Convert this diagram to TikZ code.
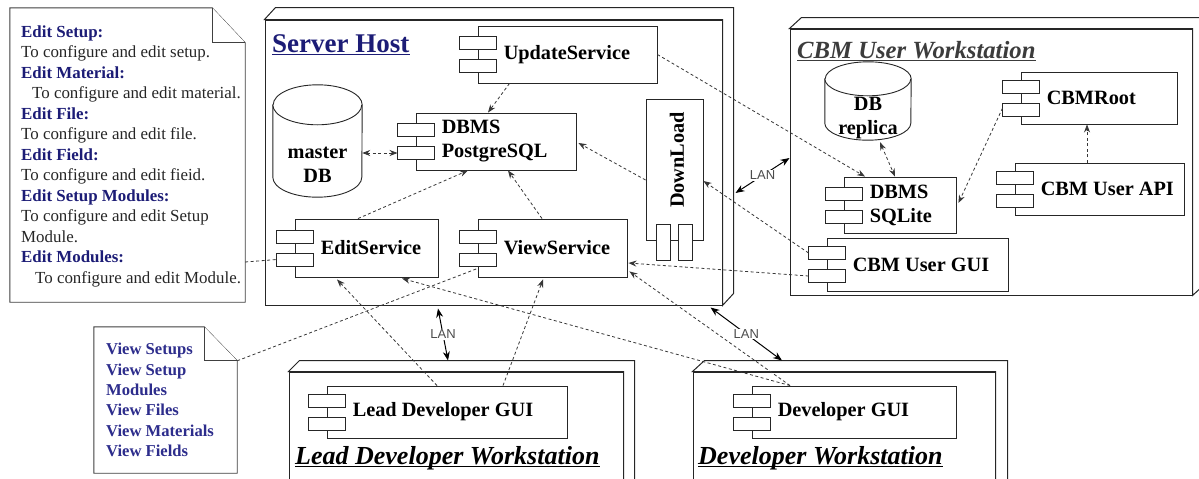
\documentclass[tikz,border=0pt]{standalone}
\usepackage{fontspec}
\setmainfont{Liberation Serif}
\newfontfamily\lansf{Liberation Sans}
\usetikzlibrary{positioning,arrows.meta}

\definecolor{navy}{RGB}{28,28,118}
\definecolor{noteblue}{RGB}{45,45,140}
\definecolor{titlegray}{RGB}{60,60,60}
\definecolor{linegray}{RGB}{55,55,55}

\tikzset{
  comp/.style={draw=black!85, line width=0.9pt, fill=white, inner sep=0pt},
  complabel/.style={font=\fontsize{20.3}{24}\selectfont\bfseries, align=left, inner sep=0pt},
  handle/.style={draw=black!85, line width=0.9pt, fill=white},
  nodebox/.style={draw=black!85, line width=1pt, fill=white, inner sep=0pt},
  dbshape/.style={draw=black!85, line width=0.9pt, fill=white},
  notebox/.style={draw=black!75, line width=0.9pt, fill=white},
  dep/.style={draw=linegray, line width=0.8pt, dash pattern=on 3pt off 2.5pt, -{Stealth[length=8pt,width=6pt]}},
  deps/.style={dep, {Stealth[length=8pt,width=6pt]}-{Stealth[length=8pt,width=6pt]}},
  assoc/.style={draw=linegray, line width=0.8pt, dash pattern=on 3pt off 2.5pt},
  lan/.style={draw=black, line width=1pt, {Stealth[length=9pt,width=7pt]}-{Stealth[length=9pt,width=7pt]}},
  lanlabel/.style={font=\lansf\fontsize{13}{15}\selectfont, text=black!70, fill=white, inner sep=1pt},
  nodetitle/.style={font=\fontsize{26}{30}\selectfont\bfseries\itshape, inner sep=0pt, anchor=base west},
  notetext/.style={font=\fontsize{16.9}{20.5}\selectfont, align=left, inner sep=0pt, anchor=north west},
  ulline/.style={line width=1.6pt},
}

% two component handles on the left side of a node
\newcommand\comphandles[1]{%
  \draw[handle] ([shift={(-18,-18)}]#1.west) rectangle ++(37,13);
  \draw[handle] ([shift={(-18,5)}]#1.west) rectangle ++(37,13);}
% 3d faces of a deployment node
\newcommand\nodedepth[3]{%
  \draw[nodebox] (#1.north west) -- ++(#2,-#3) -- ([shift={(#2,-#3)}]#1.north east)
    -- ([shift={(#2,-#3)}]#1.south east) -- (#1.south east) -- (#1.north east) -- cycle;}
% underline below a title node
\newcommand\titleline[2][black]{%
  \draw[ulline, #1] ([shift={(0,2.5)}]#2.base west) -- ([shift={(0,2.5)}]#2.base east);}

\begin{document}
\begin{tikzpicture}[x=1pt,y=-1pt]
\useasboundingbox (0,0) rectangle (1199,479);
\clip (0,0) rectangle (1199,479);

% deployment nodes
\node[nodebox, minimum width=457pt, minimum height=285pt] (srv) at (493.5,162.5) {};
\nodedepth{srv}{11}{12}
\node[nodebox, minimum width=402pt, minimum height=266pt] (cbm) at (991,162) {};
\nodedepth{cbm}{12}{11}
\node[nodebox, minimum width=334pt, minimum height=158pt] (lead) at (456,451) {};
\nodedepth{lead}{11}{11}
\node[nodebox, minimum width=302pt, minimum height=158pt] (dev) at (844,451) {};
\nodedepth{dev}{12}{11}

\node[font=\fontsize{27}{30}\selectfont\bfseries, text=navy, inner sep=0pt, anchor=base west] (srvtitle) at (272,52) {Server Host};
\titleline[navy]{srvtitle}
\node[nodetitle, font=\fontsize{24.7}{28}\selectfont\bfseries\itshape, text=titlegray] (cbmtitle) at (797,58) {CBM User Workstation};
\titleline[titlegray]{cbmtitle}
\node[nodetitle] (leadtitle) at (295,464) {Lead Developer Workstation};
\titleline{leadtitle}
\node[nodetitle] (devtitle) at (698,464) {Developer Workstation};
\titleline{devtitle}

% notes
\node[minimum width=235pt, minimum height=294pt, inner sep=0pt] (editnote) at (127.5,155) {};
\draw[notebox] (editnote.north west) -- ([shift={(-33,0)}]editnote.north east) -- ([shift={(0,35)}]editnote.north east)
  -- (editnote.south east) -- (editnote.south west) -- cycle;
\draw[notebox] ([shift={(-33,0)}]editnote.north east) -- ++(0,35) -- ++(33,0);
\node[notetext, text=black!85] (edittxt) at (21,25.5) {%
  \textcolor{navy}{\bfseries Edit Setup:}\\
  To configure and edit setup.\\
  \textcolor{navy}{\bfseries Edit Material:}\\
  \hspace*{11pt}To configure and edit material.\\
  \textcolor{navy}{\bfseries Edit File:}\\
  To configure and edit file.\\
  \textcolor{navy}{\bfseries Edit Field:}\\
  To configure and edit fieid.\\
  \textcolor{navy}{\bfseries Edit Setup Modules:}\\
  To configure and edit Setup\\
  Module.\\
  \textcolor{navy}{\bfseries Edit Modules:}\\
  \hspace*{14pt}To configure and edit Module.};

\node[minimum width=143pt, minimum height=146pt, inner sep=0pt] (viewnote) at (165.5,400) {};
\draw[notebox] (viewnote.north west) -- ([shift={(-33,0)}]viewnote.north east) -- ([shift={(0,34)}]viewnote.north east)
  -- (viewnote.south east) -- (viewnote.south west) -- cycle;
\draw[notebox] ([shift={(-33,0)}]viewnote.north east) -- ++(0,34) -- ++(33,0);
\node[notetext, font=\fontsize{16.6}{20.4}\selectfont\bfseries, text=noteblue] (viewtxt) at (106,343)
  {View Setups\\View Setup\\Modules\\View Files\\View Materials\\View Fields};

% databases
\node[minimum width=89pt, minimum height=112pt, inner sep=0pt] (mdb) at (317.5,141) {};
\draw[dbshape] ([shift={(0,20)}]mdb.north west) -- ([shift={(0,-20)}]mdb.south west)
  arc[start angle=180, end angle=360, x radius=44.5pt, y radius=20pt] -- ([shift={(0,20)}]mdb.north east)
  arc[start angle=0, end angle=180, x radius=44.5pt, y radius=20pt] -- cycle;
\draw[dbshape] ([shift={(0,20)}]mdb.north west) arc[start angle=180, end angle=360, x radius=44.5pt, y radius=20pt];
\node[complabel, align=center] (mdbtxt) at (317.5,165) {master\\DB};

\node[minimum width=86pt, minimum height=78pt, inner sep=0pt] (rep) at (868,101) {};
\draw[dbshape] ([shift={(0,17)}]rep.north west) -- ([shift={(0,-17)}]rep.south west)
  arc[start angle=180, end angle=360, x radius=43pt, y radius=17pt] -- ([shift={(0,17)}]rep.north east)
  arc[start angle=0, end angle=180, x radius=43pt, y radius=17pt] -- cycle;
\draw[dbshape] ([shift={(0,17)}]rep.north west) arc[start angle=180, end angle=360, x radius=43pt, y radius=17pt];
\node[complabel, align=center] (reptxt) at (868,118.5) {DB\\replica};

% components
\node[comp, minimum width=179pt, minimum height=57pt] (upd) at (567.5,54.5) {};
\comphandles{upd}
\node[complabel, right=26pt of upd.west] (updtxt) {UpdateService};

\node[comp, minimum width=160pt, minimum height=57pt] (pg) at (496,141.5) {};
\comphandles{pg}
\node[complabel, right=26pt of pg.west] (pgtxt) {DBMS\\PostgreSQL};

\node[comp, minimum width=143pt, minimum height=58pt] (edit) at (366.5,248) {};
\comphandles{edit}
\node[complabel, right=26pt of edit.west] (editsvctxt) {EditService};

\node[comp, minimum width=149pt, minimum height=58pt] (view) at (552.5,248) {};
\comphandles{view}
\node[complabel, right=26pt of view.west] (viewsvctxt) {ViewService};

\node[comp, minimum width=57pt, minimum height=141pt] (dl) at (674.5,169.5) {};
\draw[handle] ([shift={(-18.5,-16)}]dl.south) rectangle ++(14,36);
\draw[handle] ([shift={(3.5,-16)}]dl.south) rectangle ++(14,36);
\node[complabel, rotate=90] (dltxt) at ([shift={(2.5,-9.5)}]dl.center) {DownLoad};

\node[comp, minimum width=156pt, minimum height=52pt] (root) at (1099,98) {};
\comphandles{root}
\node[complabel, right=26pt of root.west] (roottxt) {CBMRoot};

\node[comp, minimum width=169pt, minimum height=52pt] (api) at (1099.5,189) {};
\comphandles{api}
\node[complabel, right=26pt of api.west] (apitxt) {CBM User API};

\node[comp, minimum width=112pt, minimum height=56pt] (sql) at (900,205) {};
\comphandles{sql}
\node[complabel, right=26pt of sql.west] (sqltxt) {DBMS\\SQLite};

\node[comp, minimum width=181pt, minimum height=53pt] (gui) at (917.5,264.5) {};
\comphandles{gui}
\node[complabel, right=26pt of gui.west] (guitxt) {CBM User GUI};

\node[comp, minimum width=240pt, minimum height=52pt] (leadgui) at (447,412) {};
\comphandles{leadgui}
\node[complabel, right=26pt of leadgui.west] (leadguitxt) {Lead Developer GUI};

\node[comp, minimum width=204pt, minimum height=52pt] (devgui) at (854,412) {};
\comphandles{devgui}
\node[complabel, right=26pt of devgui.west] (devguitxt) {Developer GUI};

% dependencies
\draw[dep] ([shift={(-58,0)}]upd.south) -- ([shift={(-8,0)}]pg.north);
\draw[deps] ([shift={(0,12)}]mdb.east) -- ([shift={(-18,11.5)}]pg.west);
\draw[dep] ([shift={(-8.5,0)}]edit.north) -- ([shift={(-28,0)}]pg.south);
\draw[dep] ([shift={(-10.5,0)}]view.north) -- ([shift={(12,0)}]pg.south);
\draw[dep] ([shift={(0,10.5)}]dl.west) -- ([shift={(2,1.5)}]pg.east);
\draw[dep] (upd.east) -- ([shift={(-35,0)}]sql.north);
\draw[deps] ([shift={(12,2)}]rep.south) -- ([shift={(-5,0)}]sql.north);
\draw[dep] ([shift={(-18,10)}]root.west) -- ([shift={(2,-2)}]sql.east);
\draw[dep] ([shift={(-12.5,0)}]api.north) -- ([shift={(-12,0)}]root.south);
\draw[dep] ([shift={(-18,-11.5)}]gui.west) -- ([shift={(0,11.5)}]dl.east);
\draw[dep] ([shift={(-18,11.5)}]gui.west) -- ([shift={(1,15)}]view.east);
\draw[dep] ([shift={(-10,0)}]leadgui.north) -- ([shift={(-29.5,2)}]edit.south);
\draw[dep] ([shift={(56,0)}]leadgui.north) -- ([shift={(-9.5,2)}]view.south);
\draw[dep] ([shift={(-64,0)}]devgui.north) -- ([shift={(35.5,1)}]edit.south);
\draw[dep] ([shift={(-64,0)}]devgui.north) -- ([shift={(2,-6)}]view.south east);
\draw[assoc] ([shift={(0,107)}]editnote.east) -- ([shift={(-18,11.5)}]edit.west);
\draw[assoc] ([shift={(0,34)}]viewnote.north east) -- ([shift={(0,-9)}]view.south west);

% network links
\draw[lan] ([shift={(13,30.5)}]srv.east) -- node[lanlabel] (lan1) {LAN} ([shift={(0,-4)}]cbm.west);
\draw[lan] ([shift={(-55.5,3)}]srv.south) -- node[lanlabel] (lan2) {LAN} ([shift={(-8,-11)}]lead.north);
\draw[lan] ([shift={(-12,2)}]srv.south east) -- node[lanlabel] (lan3) {LAN} ([shift={(-62,-11)}]dev.north);
\end{tikzpicture}
\end{document}
